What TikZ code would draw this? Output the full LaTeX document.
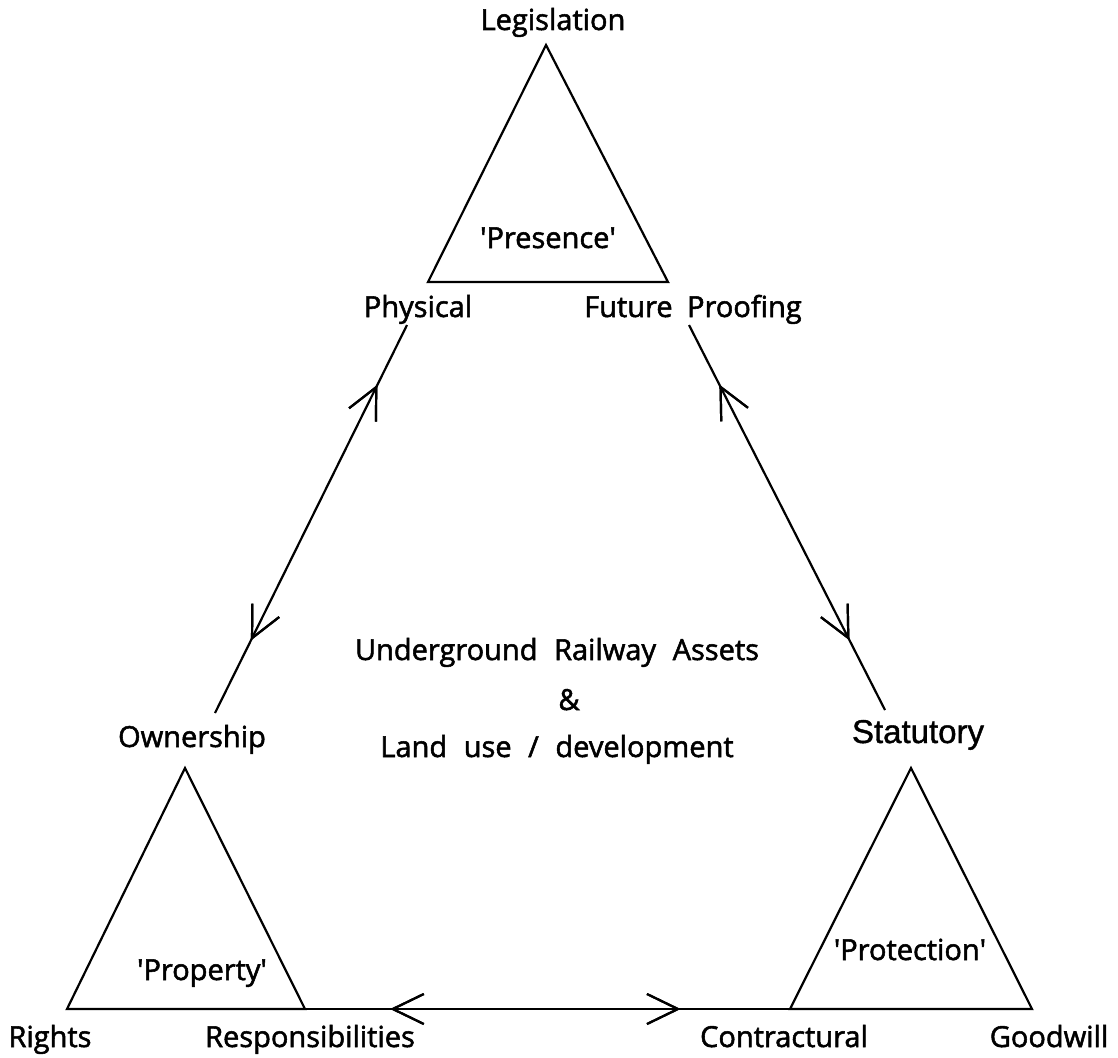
\documentclass[tikz,border=0pt]{standalone}
\usepackage{fontspec}
\setmainfont[FakeBold=1.8]{Open Sans}
\newfontfamily\arialfont[FakeBold=1.2]{Liberation Sans}
\newfontfamily\widefont[WordSpace=2.2,FakeBold=1.8]{Open Sans}
\usetikzlibrary{decorations.markings}
\begin{document}
\begin{tikzpicture}[x=1pt,y=-1pt,
  lbl/.style={anchor=base,inner sep=0pt,font=\fontsize{29}{34}\selectfont},
  edge/.style={line width=2.2pt,line join=miter},
  vfwd/.style={postaction={decorate},decoration={markings,
     mark=at position #1 with {\draw[line width=2.2pt] (-31pt,15pt) -- (0pt,0pt) -- (-31pt,-15pt);}}},
  vbwd/.style={postaction={decorate},decoration={markings,
     mark=at position #1 with {\draw[line width=2.2pt] (31pt,15pt) -- (0pt,0pt) -- (31pt,-15pt);}}}
]
\useasboundingbox (0,0) rectangle (1118,1057);
% vertices
\coordinate (tA) at (546,45);
\coordinate (tL) at (428,282);
\coordinate (tR) at (668,282);
\coordinate (lA) at (185,768);
\coordinate (lL) at (67,1009);
\coordinate (lR) at (305,1009);
\coordinate (rA) at (911,768);
\coordinate (rL) at (790,1009);
\coordinate (rR) at (1032,1009);
\coordinate (pL1) at (215,713);
\coordinate (pL2) at (407,325);
\coordinate (pR1) at (689,325);
\coordinate (pR2) at (885,710);
% triangles
\draw[edge] (tA) -- (tL) -- (tR) -- cycle;
\draw[edge] (lA) -- (lL) -- (lR) -- cycle;
\draw[edge] (rA) -- (rL) -- (rR) -- cycle;
% connectors
\draw[edge,vfwd=0.84,vbwd=0.193] (pL1) -- (pL2);
\draw[edge,vbwd=0.161,vfwd=0.813] (pR1) -- (pR2);
\draw[edge,vbwd=0.181,vfwd=0.769] (lR) -- (rL);
% labels
\node[lbl] (leg) at (553,30) {Legislation};
\node[lbl] (pres) at (548,248) {\textquotesingle Presence\textquotesingle};
\node[lbl] (phys) at (418,317) {Physical};
\node[lbl] (fut) at (693,317) {Future\hspace{0.5em}Proofing};
\node[lbl,font=\widefont\fontsize{29}{34}\selectfont] (ura) at (557,660) {Underground Railway Assets};
\node[lbl] (amp) at (569,710) {\&};
\node[lbl,font=\widefont\fontsize{29}{34}\selectfont] (land) at (557,757) {Land use / development};
\node[lbl] (own) at (192,747) {Ownership};
\node[lbl,font=\arialfont\fontsize{33}{38}\selectfont] (stat) at (918,743) {Statutory};
\node[lbl] (prop) at (202,980) {\textquotesingle Property\textquotesingle};
\node[lbl] (prot) at (910,960) {\textquotesingle Protection\textquotesingle};
\node[lbl] (rig) at (50,1047) {Rights};
\node[lbl] (resp) at (310,1047) {Responsibilities};
\node[lbl] (cont) at (784,1047) {Contractural};
\node[lbl] (good) at (1049,1047) {Goodwill};
\end{tikzpicture}
\end{document}
